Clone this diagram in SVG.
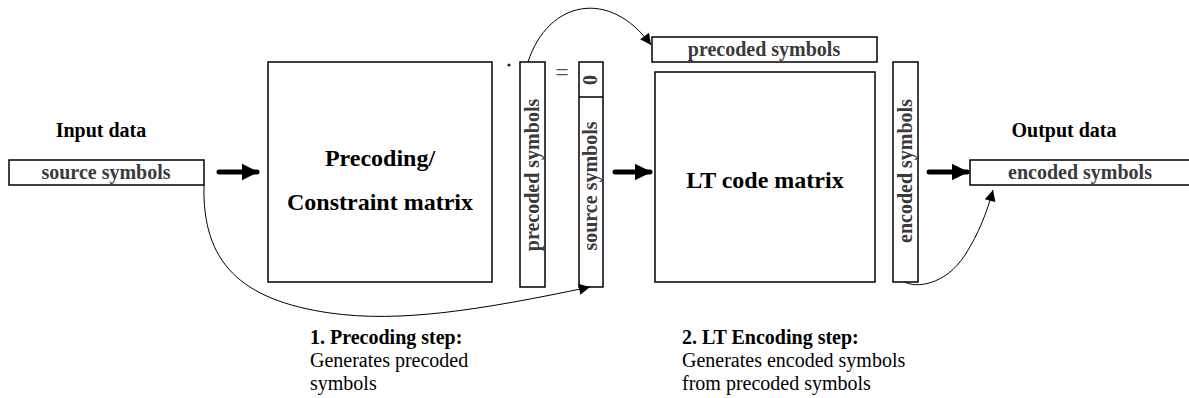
<svg xmlns="http://www.w3.org/2000/svg" width="1189" height="398" viewBox="0 0 1189 398">
  <style>
    .box { fill: #fff; stroke: #000; stroke-width: 1.5; }
    .lbl { font-family: "Liberation Serif", "Times New Roman", serif; font-weight: bold; font-size: 20px; fill: #3a3a3a; text-anchor: middle; }
    .head { font-family: "Liberation Serif", "Times New Roman", serif; font-weight: bold; font-size: 20px; fill: #000; text-anchor: middle; }
    .big { font-family: "Liberation Serif", "Times New Roman", serif; font-weight: bold; font-size: 24px; fill: #000; text-anchor: middle; }
    .note { font-family: "Liberation Serif", "Times New Roman", serif; font-size: 20px; fill: #000; }
    .note .b { font-weight: bold; }
    .thick { stroke: #000; stroke-width: 5; stroke-linecap: round; fill: none; }
    .thin { stroke: #000; stroke-width: 1; fill: none; }
  </style>
  <defs>
    <marker id="bigHead" viewBox="0 0 10 10" refX="9" refY="5" markerWidth="3.4" markerHeight="4.4" markerUnits="strokeWidth" orient="auto">
      <path d="M0,0 L10,5 L0,10 z" fill="#000"/>
    </marker>
    <marker id="smallHead" viewBox="0 0 10 10" refX="10" refY="5" markerWidth="15" markerHeight="11" markerUnits="userSpaceOnUse" orient="auto">
      <path d="M0,0 L10,5 L0,10 z" fill="#000"/>
    </marker>
  </defs>

  <!-- input side -->
  <g id="input-data">
    <text class="head" x="101" y="137">Input data</text>
    <rect class="box" x="9" y="160" width="195" height="25"/>
    <text class="lbl" x="106" y="179">source symbols</text>
  </g>

  <!-- precoding / constraint matrix -->
  <g id="precoding-matrix">
    <rect class="box" x="268" y="62" width="224" height="220"/>
    <text class="big" x="380" y="166">Precoding/</text>
    <text class="big" x="380" y="210">Constraint matrix</text>
  </g>

  <g id="dot-operator">
    <circle cx="509" cy="65" r="1.6" fill="#222"/>
  </g>

  <g id="precoded-column">
    <rect class="box" x="520" y="62" width="25" height="225"/>
    <text class="lbl" transform="translate(539,175) rotate(-90)">precoded symbols</text>
  </g>

  <g id="equals-sign">
    <text x="562" y="80" font-family="Liberation Serif, serif" font-size="24" fill="#555" text-anchor="middle">=</text>
  </g>

  <g id="source-column">
    <rect class="box" x="579" y="62" width="24" height="225"/>
    <line x1="579" y1="97" x2="603" y2="97" stroke="#000" stroke-width="1.5"/>
    <text class="lbl" transform="translate(597,80) rotate(-90)">0</text>
    <text class="lbl" transform="translate(597,186) rotate(-90)">source symbols</text>
  </g>

  <!-- LT encoding -->
  <g id="precoded-row">
    <rect class="box" x="652" y="37" width="225" height="25"/>
    <text class="lbl" x="764" y="56">precoded symbols</text>
  </g>

  <g id="lt-matrix">
    <rect class="box" x="655" y="72" width="220" height="210"/>
    <text class="big" x="765" y="188">LT code matrix</text>
  </g>

  <g id="encoded-column">
    <rect class="box" x="893" y="62" width="25" height="220"/>
    <text class="lbl" transform="translate(912,171) rotate(-90)">encoded symbols</text>
  </g>

  <!-- output side -->
  <g id="output-data">
    <text class="head" x="1064" y="137">Output data</text>
    <rect class="box" x="970" y="160" width="222" height="25"/>
    <text class="lbl" x="1080" y="179">encoded symbols</text>
  </g>

  <!-- step notes -->
  <g id="note-precoding">
    <text class="note" x="310" y="344"><tspan class="b">1. Precoding step:</tspan></text>
    <text class="note" x="310" y="367">Generates precoded</text>
    <text class="note" x="310" y="390">symbols</text>
  </g>
  <g id="note-lt">
    <text class="note" x="682" y="344"><tspan class="b">2. LT Encoding step:</tspan></text>
    <text class="note" x="682" y="367">Generates encoded symbols</text>
    <text class="note" x="682" y="390">from precoded symbols</text>
  </g>

  <!-- connectors -->
  <g id="connectors">
    <line class="thick" x1="219" y1="172" x2="257" y2="172" marker-end="url(#bigHead)"/>
    <line class="thick" x1="615" y1="172" x2="650" y2="172" marker-end="url(#bigHead)"/>
    <line class="thick" x1="929" y1="172" x2="967" y2="172" marker-end="url(#bigHead)"/>
    <path class="thin" d="M528,62 C548,0 610,-12 651,45" marker-end="url(#smallHead)"/>
    <path class="thin" d="M204,185 C202,262 240,300 330,313 C400,323 480,310 590,287" marker-end="url(#smallHead)"/>
    <path class="thin" d="M905,282 C915,288 945,286 965,255 C979,233 987,212 993,190" marker-end="url(#smallHead)"/>
  </g>
</svg>
